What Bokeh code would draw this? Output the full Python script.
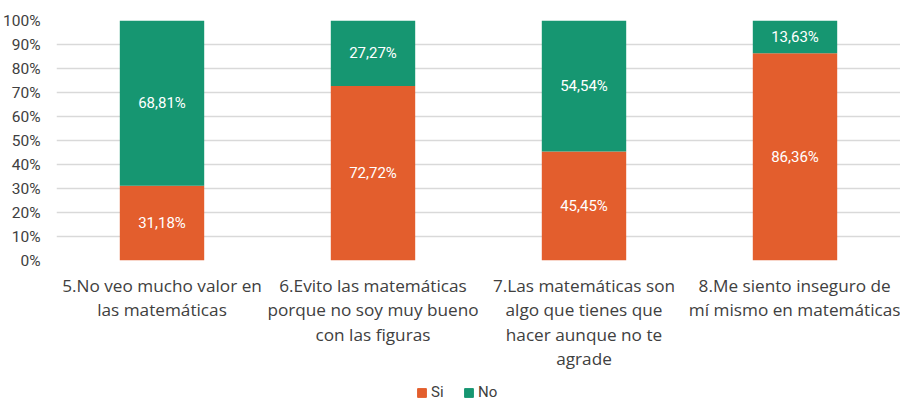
from bokeh.plotting import figure
from bokeh.models import ColumnDataSource, LabelSet, Legend, LegendItem, FactorRange, FixedTicker, PrintfTickFormatter
from bokeh.core.properties import value
from bokeh.layouts import column
from bokeh.embed import file_html
from bokeh.resources import INLINE

categories = [
    "5.No veo mucho valor en\nlas matemáticas",
    "6.Evito las matemáticas\nporque no soy muy bueno\ncon las figuras",
    "7.Las matemáticas son\nalgo que tienes que\nhacer aunque no te\nagrade",
    "8.Me siento inseguro de\nmí mismo en matemáticas",
]
si_values = [31.18, 72.72, 45.45, 86.36]
no_values = [68.81, 27.27, 54.54, 13.63]
si_text = ["31,18%", "72,72%", "45,45%", "86,36%"]
no_text = ["68,81%", "27,27%", "54,54%", "13,63%"]
y_ticks = [0, 10, 20, 30, 40, 50, 60, 70, 80, 90, 100]

SI_COLOR = "#E35E2D"
NO_COLOR = "#169671"
NUM_FONT = "Roboto"

src = ColumnDataSource(dict(
    cat=categories,
    Si=si_values,
    No=no_values,
    si_mid=[s / 2 for s in si_values],
    no_mid=[s + n / 2 for s, n in zip(si_values, no_values)],
    si_text=si_text,
    no_text=no_text,
))

p = figure(x_range=FactorRange(*categories), y_range=(0, 100),
           width=900, height=375, output_backend="svg", toolbar_location=None,
           min_border_left=53, min_border_right=0, min_border_top=20, min_border_bottom=115)
p.outline_line_color = None

renderers = p.vbar_stack(["Si", "No"], x="cat", width=0.4, source=src,
                         color=[SI_COLOR, NO_COLOR], line_color=None)

for col, ycol in (("si_text", "si_mid"), ("no_text", "no_mid")):
    p.add_layout(LabelSet(x="cat", y=ycol, text=col, source=src,
                          text_align="center", text_baseline="middle",
                          text_color="white", text_font=value(NUM_FONT),
                          text_font_size="15px"))

p.yaxis.ticker = FixedTicker(ticks=y_ticks)
p.yaxis.formatter = PrintfTickFormatter(format="%d%%")
p.yaxis.axis_line_color = None
p.yaxis.major_tick_line_color = None
p.yaxis.minor_tick_line_color = None
p.yaxis.major_label_text_font = NUM_FONT
p.yaxis.major_label_text_font_size = "15.5px"
p.yaxis.major_label_text_color = "#404040"
p.yaxis.major_label_standoff = 10

p.xaxis.axis_line_color = None
p.xaxis.major_tick_line_color = None
p.xaxis.major_tick_out = 0
p.xaxis.major_label_text_font = "Open Sans"
p.xaxis.major_label_text_font_size = "17.2px"
p.xaxis.major_label_text_color = "#404040"
p.xaxis.major_label_standoff = 13
p.xaxis.major_label_text_line_height = 1.07

p.xgrid.grid_line_color = None
p.ygrid.grid_line_color = "#D9D9D9"
p.ygrid.grid_line_width = 1.5

# legend strip
lg = figure(width=900, height=26, output_backend="svg", toolbar_location=None,
            x_range=(0, 1), y_range=(0, 1), min_border=0)
lg.axis.visible = False
lg.grid.visible = False
lg.outline_line_color = None
r_si = lg.vbar(x=[5], top=[1], width=0.1, color=SI_COLOR)
r_no = lg.vbar(x=[5], top=[1], width=0.1, color=NO_COLOR)
legend = Legend(items=[LegendItem(label="Si", renderers=[r_si]),
                       LegendItem(label="No", renderers=[r_no])],
                orientation="horizontal", location=(360, 0),
                label_text_font=NUM_FONT, label_text_font_size="15px",
                label_text_color="#404040", glyph_width=11, glyph_height=11,
                border_line_color=None, background_fill_alpha=0,
                spacing=12, padding=0, margin=0, label_standoff=4)
lg.add_layout(legend, "center")

layout = column(p, lg, spacing=0)
open("out.html", "w").write(file_html(layout, INLINE))
